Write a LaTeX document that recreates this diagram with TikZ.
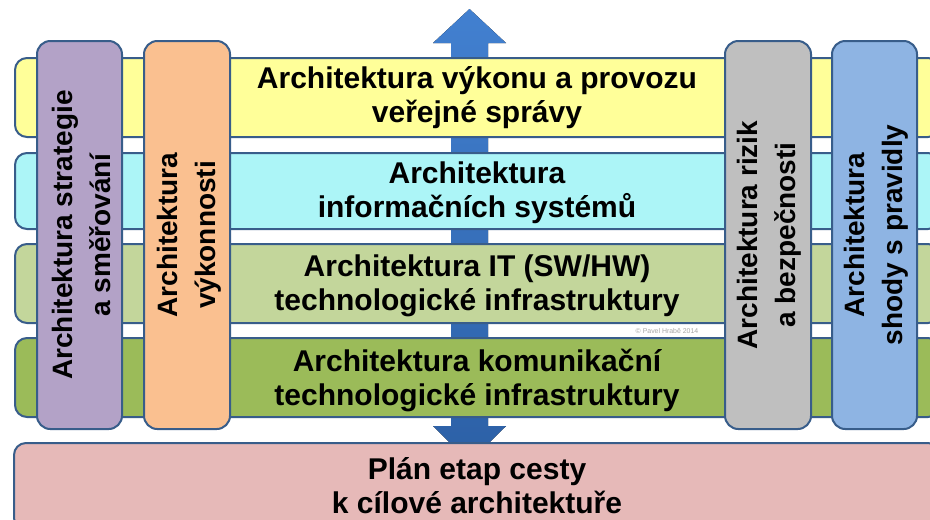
\documentclass[tikz,border=0pt]{standalone}
\usepackage{fontspec}
\setmainfont{Liberation Sans}

\definecolor{framecol}{RGB}{56,93,138}
\definecolor{yellowcol}{RGB}{255,255,153}
\definecolor{cyancol}{RGB}{172,245,247}
\definecolor{lgreencol}{RGB}{195,214,155}
\definecolor{greencol}{RGB}{155,187,89}
\definecolor{pinkcol}{RGB}{230,185,184}
\definecolor{purplecol}{RGB}{179,162,199}
\definecolor{orangecol}{RGB}{250,192,144}
\definecolor{graycol}{RGB}{191,191,191}
\definecolor{bluecol}{RGB}{142,180,227}
\definecolor{arrowtop}{RGB}{66,128,208}
\definecolor{arrowbot}{RGB}{44,96,166}

\tikzstyle{band} = [draw=framecol,line width=1.5pt,rounded corners=9pt]
\tikzstyle{pillar} = [draw=framecol,line width=1.5pt,rounded corners=10pt]
\tikzstyle{bandtext} = [align=center,font=\bfseries\fontsize{22.5}{25.5}\selectfont]
\tikzstyle{pillartext} = [align=center,rotate=90,font=\bfseries\fontsize{21}{28.5}\selectfont]

\begin{document}
\begin{tikzpicture}[x=0.75pt,y=-0.75pt]
	\clip (0,0) rectangle (930,519);
	\fill [white] (0,0) rectangle (930,519);
	% double arrow behind the layers
	\fill [top color=arrowtop,bottom color=arrowbot] (469.5,9) -- (506,43) -- (488,43) -- (488,426) -- (506,426)
		-- (469.5,462) -- (433,426) -- (451,426) -- (451,43) -- (433,43) -- cycle;
	% layers
	\draw [band,fill=yellowcol] (15,58) rectangle (940,137);
	\draw [band,fill=cyancol] (15,153) rectangle (940,229);
	\draw [band,fill=lgreencol] (15,244) rectangle (940,323);
	\draw [band,fill=greencol] (15,338) rectangle (940,417);
	\draw [band,fill=pinkcol] (14,443) rectangle (940,530);
	\node (vykon) [bandtext] at (477,98) {Architektura výkonu a provozu\\veřejné správy};
	\node (infosys) [bandtext] at (477,193) {Architektura\\informačních systémů};
	\node (itinfra) [bandtext] at (477,286) {Architektura IT (SW/HW)\\technologické infrastruktury};
	\node (komunikace) [bandtext] at (477,380) {Architektura komunikační\\technologické infrastruktury};
	\node (plan) [bandtext] at (477,486) {Plán etap cesty\\k cílové architektuře};
	\node (copyright) [font=\fontsize{5.2}{6}\selectfont,text=black!35] at (667,331) {© Pavel Hrabě 2014};
	% pillars
	\draw [pillar,fill=purplecol] (37,41) rectangle (122,429);
	\draw [pillar,fill=orangecol] (144,41) rectangle (230,429);
	\draw [pillar,fill=graycol] (725,41) rectangle (811,429);
	\draw [pillar,fill=bluecol] (832,41) rectangle (917,429);
	\node (strategie) [pillartext] at (81,235) {Architektura strategie\\a směřování};
	\node (vykonnost) [pillartext] at (189,235) {Architektura\\výkonnosti};
	\node (rizika) [pillartext] at (769,235) {Architektura rizik\\a bezpečnosti};
	\node (shoda) [pillartext] at (876,235) {Architektura\\shody s pravidly};
\end{tikzpicture}
\end{document}
